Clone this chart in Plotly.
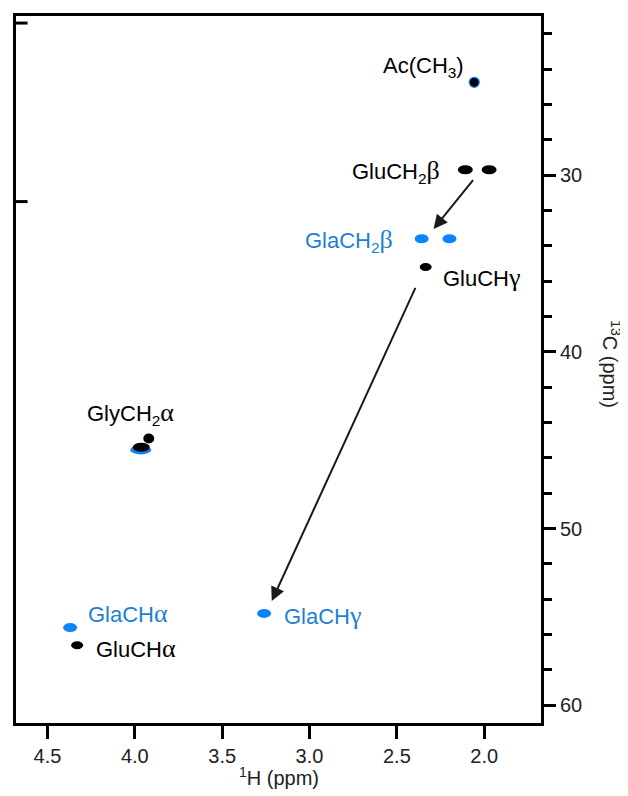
import plotly.graph_objects as go

BLACK = "#000000"
BLUE_M = "#0a84ff"
BLUE_T = "#1f7fd2"
FONT = "Liberation Sans, Arial, sans-serif"


def greek(ch):
    return "<span style=\"font-family:'Liberation Serif';font-size:26px\">" + ch + "</span>"


# Peaks (1H ppm, 13C ppm)
black_peaks_h = [2.057, 2.108, 1.972, 2.335, 4.33]
black_peaks_c = [24.75, 29.7, 29.7, 35.2, 56.6]
blue_peaks_h = [2.358, 2.199, 3.26, 4.37]
blue_peaks_c = [33.6, 33.6, 54.8, 55.6]

# GlyCH2alpha cluster
gly_blue_h, gly_blue_c = 3.966, 45.55
gly_black_h, gly_black_c = 3.963, 45.4
gly_dot_h, gly_dot_c = 3.92, 44.9

# Labels (left edge position)
labels = ["Ac(CH<sub>3</sub>)", "GluCH<sub>2</sub>" + greek("β"), "GlaCH<sub>2</sub>" + greek("β"),
          "GluCH" + greek("γ"), "GlyCH<sub>2</sub>" + greek("α"), "GlaCH" + greek("α"),
          "GlaCH" + greek("γ"), "GluCH" + greek("α")]
label_h = [2.59, 2.77, 3.037, 2.25, 4.285, 4.28, 3.16, 4.235]
label_c = [23.9, 29.8, 33.7, 35.8, 43.5, 54.8, 54.9, 56.8]
label_colors = [BLACK, BLACK, BLUE_T, BLACK, BLACK, BLUE_T, BLUE_T, BLACK]

# Arrows (start -> end)
arrow_start_h = [2.057, 2.39]
arrow_start_c = [30.2, 36.3]
arrow_end_h = [2.29, 3.216]
arrow_end_c = [33.05, 54.1]

# left-edge fragments
edge_marks_c = [21.4, 31.5]

x_ticks = [4.5, 4.0, 3.5, 3.0, 2.5, 2.0]
y_ticks = [30, 40, 50, 60]
y_minor = list(range(22, 61, 2))

fig = go.Figure()
fig.add_trace(go.Scatter(x=[None], y=[None], showlegend=False))

shapes = []


def ellipse(h, c, w, hgt, color, line_color=None, lw=0):
    return dict(type="circle", xref="x", yref="y", xsizemode="pixel", ysizemode="pixel",
                xanchor=h, yanchor=c, x0=-w / 2, x1=w / 2, y0=-hgt / 2, y1=hgt / 2,
                fillcolor=color, line=dict(color=line_color or color, width=lw), layer="above")


shapes.append(ellipse(gly_blue_h, gly_blue_c, 21, 9, BLUE_M))
shapes.append(ellipse(gly_black_h, gly_black_c, 17, 9, BLACK))
shapes.append(ellipse(gly_dot_h, gly_dot_c, 11, 10, BLACK))

for h, c in zip(blue_peaks_h, blue_peaks_c):
    shapes.append(ellipse(h, c, 14, 9, BLUE_M))
for i, (h, c) in enumerate(zip(black_peaks_h, black_peaks_c)):
    if i == 0:
        shapes.append(ellipse(h, c, 10, 10, BLACK, BLUE_M, 1.2))
    elif i in (3, 4):
        shapes.append(ellipse(h, c, 12, 8, BLACK))
    else:
        shapes.append(ellipse(h, c, 15, 9, BLACK))

for c in edge_marks_c:
    shapes.append(dict(type="line", xref="paper", yref="y", x0=0, x1=0.022, y0=c, y1=c,
                       line=dict(color=BLACK, width=3)))

annotations = []
for t, h, c, col in zip(labels, label_h, label_c, label_colors):
    annotations.append(dict(x=h, y=c, xref="x", yref="y", text=t, showarrow=False,
                            xanchor="left", yanchor="middle",
                            font=dict(family=FONT, size=22, color=col)))

for sh, sc, eh, ec in zip(arrow_start_h, arrow_start_c, arrow_end_h, arrow_end_c):
    annotations.append(dict(x=eh, y=ec, xref="x", yref="y", ax=sh, ay=sc, axref="x", ayref="y",
                            text="", showarrow=True, arrowhead=2, arrowsize=1.4, arrowwidth=2,
                            arrowcolor="#1a1a1a"))

annotations.append(dict(x=0.5, y=-0.076, xref="paper", yref="paper",
                        text="<sup>1</sup>H (ppm)", showarrow=False, xanchor="center", yanchor="middle",
                        font=dict(family=FONT, size=20, color="#222222")))
annotations.append(dict(x=1.134, y=0.507, xref="paper", yref="paper",
                        text="<sup>13</sup>C (ppm)", showarrow=False, textangle=90,
                        xanchor="center", yanchor="middle",
                        font=dict(family=FONT, size=20, color="#222222")))

fig.update_layout(
    width=620, height=788,
    margin=dict(l=5, r=87, t=5, b=73),
    plot_bgcolor="white", paper_bgcolor="white",
    showlegend=False,
    shapes=shapes, annotations=annotations,
    xaxis=dict(range=[4.68, 1.675], tickvals=x_ticks, ticktext=[f"{v:.1f}" for v in x_ticks],
               ticks="outside", ticklen=13, tickwidth=3, tickcolor=BLACK,
               showline=True, linewidth=3, linecolor=BLACK, mirror=True,
               showgrid=False, zeroline=False,
               tickfont=dict(family=FONT, size=20, color="#222222")),
    yaxis=dict(range=[61, 21], side="right", tickvals=y_ticks,
               ticks="outside", ticklen=12, tickwidth=3, tickcolor=BLACK,
               minor=dict(tickvals=y_minor, ticks="outside", ticklen=8, tickwidth=3,
                          tickcolor=BLACK, showgrid=False),
               showline=True, linewidth=3, linecolor=BLACK, mirror=True,
               showgrid=False, zeroline=False,
               tickfont=dict(family=FONT, size=20, color="#222222")),
)

fig.write_html("out.html")
